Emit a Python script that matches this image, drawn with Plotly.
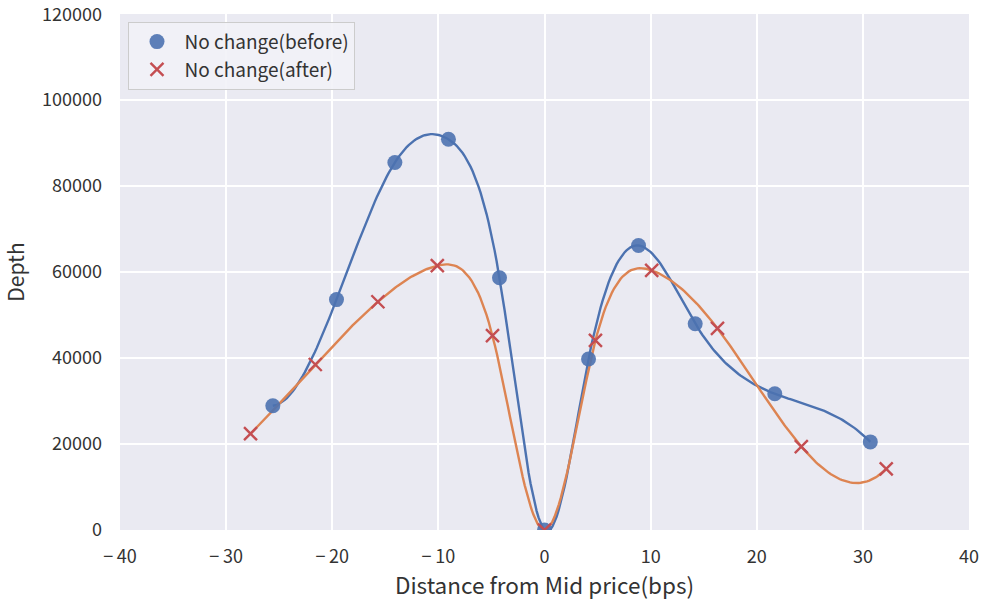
import numpy as np
import plotly.graph_objects as go

# data
before_x = [-25.6, -19.6, -14.1, -9.05, -4.24, 0.0, 4.15, 8.86, 14.2, 21.7, 30.7]
before_y = [28900, 53600, 85500, 90900, 58700, 0, 39800, 66200, 48000, 31700, 20500]
after_x = [-27.7, -21.6, -15.7, -10.1, -4.9, 0.0, 4.8, 10.1, 16.3, 24.2, 32.2]
after_y = [22400, 38500, 53100, 61500, 45200, 0, 44100, 60400, 46900, 19400, 14200]
x_ticks = [-40, -30, -20, -10, 0, 10, 20, 30, 40]
x_tick_labels = ["\u2212\u200940", "\u2212\u200930", "\u2212\u200920", "\u2212\u200910",
                 "0", "10", "20", "30", "40"]
y_ticks = [0, 20000, 40000, 60000, 80000, 100000, 120000]
y_tick_labels = ["0", "20000", "40000", "60000", "80000", "100000", "120000"]


def not_a_knot_spline(x, y, num=300):
    x = np.asarray(x, float)
    y = np.asarray(y, float)
    n = len(x)
    h = np.diff(x)
    A = np.zeros((n, n))
    b = np.zeros(n)
    A[0, 0] = h[1]
    A[0, 1] = -(h[0] + h[1])
    A[0, 2] = h[0]
    for i in range(1, n - 1):
        A[i, i - 1] = h[i - 1]
        A[i, i] = 2 * (h[i - 1] + h[i])
        A[i, i + 1] = h[i]
        b[i] = 6 * ((y[i + 1] - y[i]) / h[i] - (y[i] - y[i - 1]) / h[i - 1])
    A[n - 1, n - 3] = h[n - 2]
    A[n - 1, n - 2] = -(h[n - 3] + h[n - 2])
    A[n - 1, n - 1] = h[n - 3]
    M = np.linalg.solve(A, b)
    xs = np.linspace(x[0], x[-1], num)
    idx = np.clip(np.searchsorted(x, xs) - 1, 0, n - 2)
    x0 = x[idx]
    x1 = x[idx + 1]
    hh = x1 - x0
    ys = (M[idx] * (x1 - xs) ** 3 / (6 * hh) + M[idx + 1] * (xs - x0) ** 3 / (6 * hh)
          + (y[idx] - M[idx] * hh ** 2 / 6) * (x1 - xs) / hh
          + (y[idx + 1] - M[idx + 1] * hh ** 2 / 6) * (xs - x0) / hh)
    return xs, ys


bx, by = not_a_knot_spline(before_x, before_y)
ax, ay = not_a_knot_spline(after_x, after_y)

BLUE = "#4C72B0"
ORANGE = "#DD8452"
RED = "#C44E52"
FONT = "Noto Sans CJK JP"
TXT = "#333333"

fig = go.Figure()
fig.add_trace(go.Scatter(x=bx, y=by, mode="lines", line=dict(color=BLUE, width=2.4),
                         showlegend=False, hoverinfo="skip"))
fig.add_trace(go.Scatter(x=ax, y=ay, mode="lines", line=dict(color=ORANGE, width=2.4),
                         showlegend=False, hoverinfo="skip"))
fig.add_trace(go.Scatter(x=before_x, y=before_y, mode="markers", name="No change(before)",
                         marker=dict(symbol="circle", size=15, color=BLUE, opacity=0.9,
                                     line=dict(width=0))))
fig.add_trace(go.Scatter(x=after_x, y=after_y, mode="markers", name="No change(after)",
                         marker=dict(symbol="x-thin", size=13, color=RED,
                                     line=dict(width=2.4, color=RED))))

fig.update_layout(
    width=987, height=603,
    margin=dict(l=120, r=18, t=14, b=73, autoexpand=False),
    paper_bgcolor="white",
    plot_bgcolor="#EAEAF2",
    font=dict(family=FONT, size=18, color=TXT),
    legend=dict(x=0.01, y=0.985, xanchor="left", yanchor="top",
                bgcolor="rgba(242,242,247,0.9)", bordercolor="#CCCCCC", borderwidth=1,
                font=dict(size=19, color=TXT), itemwidth=45, tracegroupgap=0),
    xaxis=dict(range=[-40, 40], tickvals=x_ticks, ticktext=x_tick_labels,
               showgrid=True, gridcolor="white", gridwidth=1.5, zeroline=False,
               showline=False, ticks="", tickfont=dict(size=18, color=TXT),
               ticklabelstandoff=14, ticklabeloverflow="allow", automargin=False,
               title=dict(text="Distance from Mid price(bps)", font=dict(size=22.5, color=TXT),
                          standoff=4)),
    yaxis=dict(range=[0, 120050], tickvals=y_ticks, ticktext=y_tick_labels,
               showgrid=True, gridcolor="white", gridwidth=1.5, zeroline=False,
               showline=False, ticks="", tickfont=dict(size=18, color=TXT),
               ticklabelstandoff=17, ticklabeloverflow="allow", automargin=False,
               title=dict(text="Depth", font=dict(size=21, color=TXT), standoff=11)),
)

fig.write_html("out.html")
